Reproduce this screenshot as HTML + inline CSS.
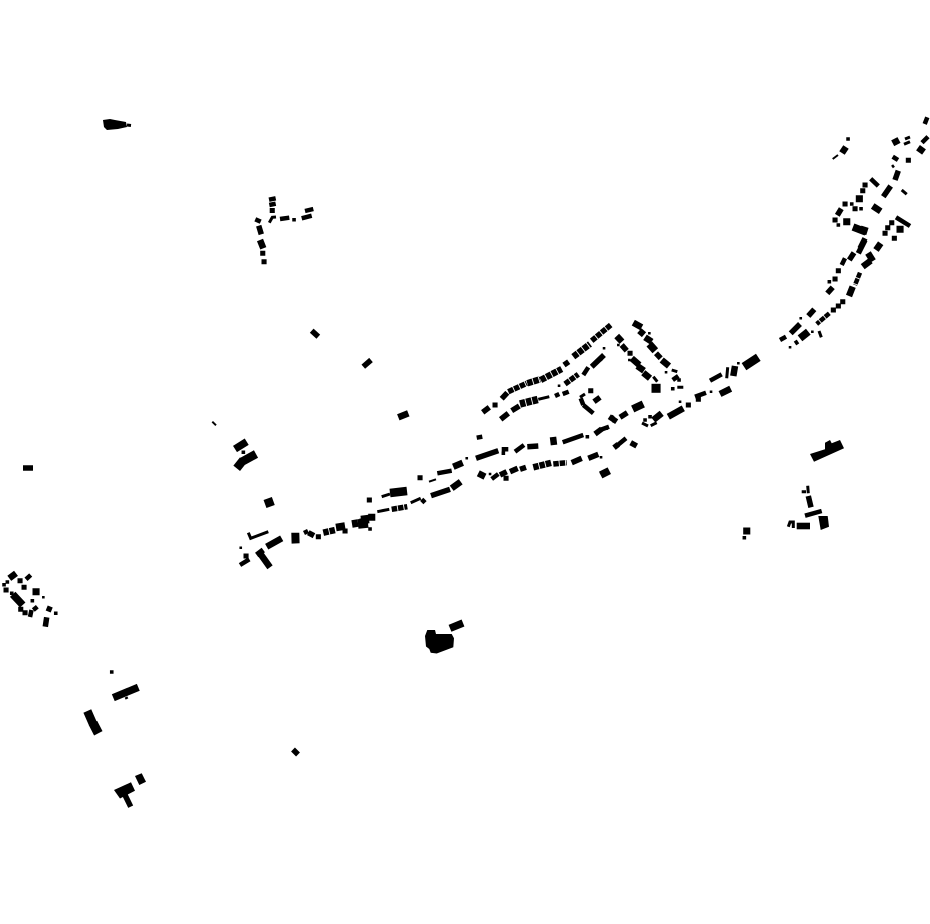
<!DOCTYPE html>
<html><head><meta charset="utf-8"><title>Figure-ground map</title>
<style>html,body{margin:0;padding:0;background:#fff}svg{display:block}path{fill:none;stroke:#000}.f{fill:#000;stroke:none}.d{stroke-linecap:square}.r{stroke-dasharray:5.5 .9}</style>
</head><body>
<svg width="930" height="924" viewBox="0 0 930 924" xmlns="http://www.w3.org/2000/svg">
<!-- filled polygons -->
<path class="f" d="M810 454L825 449.3 825 442.7 830 440 831.7 443.3 840 440 844 448.3 814 461.7Z"/>
<path class="f" d="M818.3 516L827.7 516 829 526.7 820.7 530Z"/>
<path class="f" d="M796.7 522.7H810V529.3H796.7Z"/>
<path class="f" d="M114 790L131 782.3 135 790.7 120 798.5Z"/>
<path class="f" d="M135 776L141.7 773.3 146 781.7 139.3 785Z"/>
<path class="f" d="M427.3 630L435 630 436 634 451.7 634 454 638.3 453.3 647.3 436.7 653.5 430.7 652.7 429.3 649 426 646.5 425 636Z"/>
<path class="f" d="M291.3 532.7L299.3 532.7 299.6 543.3 291.6 543.6Z"/>
<path class="f" d="M103 120L110 119 115 120 126 122 127 127 118 129 107 130 104 127Z"/>
<!-- width 2 -->
<path stroke-width="2" d="M832.7 159L838 155M212.3 421.7L216 425.3M429 481.7L436 479.3"/>
<!-- width 3 -->
<path stroke-width="3" d="M904 144.3L910 141.7M905 139L910 137M892 167L894 165.5M901.7 190L906.7 194.3M671.7 370L677.3 371.7M653.3 376.7L657.3 381.7M677.3 387.3L683.3 387.3M650.7 425.7L656.7 422.7M642 423L648 426M580 397.3L585 394M538.3 399.3L549.3 396.7M377.3 511.7L389.3 509.3M410.7 502.7L420.7 498.3M381.7 496.7L390 494M248.3 532.7L250.7 538.3L268.3 531.7M807.7 485.7L808.3 493.3M801.7 491.7L806 491.7M788.3 526.7L790 522L793.3 522L793.3 528M269.3 222.7L272.3 217.3L276 217M126 697L127 699M127 125L131 125.5M727.7 367.3L726.7 378.3M819 331L821.3 337.3"/>
<!-- width 4 -->
<path stroke-width="4.5" d="M924.7 124L927.3 117.3M922 142.7L928 136.7M892.7 156.7L898 160M870.7 178.7L878.3 186M896 217.3L910 226M780 340L786 336.7M795 343.5L798 341.5M710 380.7L721.7 374.3M695 396.7L706 392.7M600 360L603.3 355M600 430L609 426.7M672.7 380L678.3 376M615 447.3L626 438.3M583.3 375L588.3 367.3M562.7 394L568.7 391.7M555 396L559.3 394M476.7 437.7L482.3 436.7M501.7 449.3L508.3 449.3M515 451.7L524 445M562.7 442.3L583.3 435M491.7 479L498.3 474M437.3 473.3L451.7 470.7M421.7 499.3L425 502.7M240 565L249.3 559.3M269 199.7L275.7 198.3M269.3 205L275.7 203.7M280 219L289.3 217.7M305 211L313.3 209M301.7 218.3L311.7 215.7M255.3 219.3L260.7 221.7M805 515.7L821.7 511M583.3 405L593.3 413.3M580.7 398.3L583.3 405M26 579.3L30.7 575M33.3 610L37.3 606.7M30 617L31.5 610M841.7 265L845 258.300M305 530L307 534"/>
<path class="r" stroke-width="4.5" d="M860 272.7L855 285M829.3 313.3L816.7 324"/>
<!-- width 5 -->
<path stroke-width="5.5" d="M837.3 215.3L841.3 208.7M849.3 260L854 252.7M865 238.3L860 248.3M858.3 253.3L865 240M898.3 170.7L895 180M883.3 196.7L890.7 186M827.3 293.3L832.7 287.3M808.3 316L814.3 309.3M790.7 333.3L800 324M621.7 345L626.7 350.7M656 353.3L660.7 358.3M620 417.3L627.3 412.7M610.7 416.7L615 421M630.7 442.7L636.7 446M600.7 475L606 472M614 447.7L618.3 444.3M482.7 412.3L489.3 407.3M501.7 398.7L507.3 392.7M564 365L568.7 361.7M500.7 419.3L508.3 413.3M511.7 410.7L519.3 406M591.7 366.7L604 355M594 401.7L600 397.3M476 458.3L498.3 450.7M527.3 446.7L538.3 446M595 434L601.7 429M609.3 416.7L616.7 421.7M500 475L506.7 471.7M510 471.7L517.7 468.3M520 469.3L526 467.3M571.7 462.700L581.7 458.3M588.3 458.3L598.3 454.3M431 495.7L450 489.3M258.7 225.7L261.3 234.3M808.3 496L811 507.3M125 795L130.7 806.7M311.7 330.7L318.3 336.7M363.3 366.7L371 360M23 468L33 468M293 749.5L298 754.5M46.7 608L51.7 610M46.7 617.3L45.3 626.7M308.3 532.7L314 535.7M256.7 555L263.3 550"/>
<path class="r" stroke-width="5.5" d="M508.3 391.7L526.7 383.3M591.7 340.7L610.7 325M565 384L578.3 374.3M553.3 464L566.7 462.7M391.7 509.3L407.3 506.7"/>
<!-- width 6 -->
<path stroke-width="6.5" d="M892.7 143.3L899 140M872.7 206L880.7 211.3M876 250L880.7 243.3M842 153L846 147M918 147.7L924 152M849 296L852.7 286.7M862.7 266.7L870.7 260.7M868 253L873 261M633.3 322.7L641.7 327.3M639.3 330.7L644 334.7M645 337.3L651.7 341.7M661.7 360L669 366M637.3 366L644 370.7M643.3 372.7L650 378.3M616.7 336L622 341.7M720 394L730.7 388.7M668.3 416.7L683.3 408.3M653.3 420L661.7 413.3M735 366L733.3 376M478.3 473.3L485 476.7M453.3 466.700L462.7 462.7M451.7 488.3L460.7 481.7M553 437L554 445M260 553.3L270 567.3M266.7 546.7L281.7 538.3M260 240L263.3 248.3M398.3 417.3L408.3 413.3M631.7 358.3L639.3 365M9.3 578.3L16 573.3"/>
<path class="r" stroke-width="6.500" d="M527.3 383.3L540 379.3M540.7 380L561.7 369M573.3 356.7L590 344M533.3 467.3L551.7 462.7M323.3 532.7L335 530"/>
<!-- width 7 -->
<path stroke-width="7.5" d="M853 227L866 232M865 226.7L862.7 234M800 338.3L808.3 331.7M649.3 344L655.3 350.7M632.7 409L643.3 404M600.7 475L609.3 470.7M113.3 697.7L138.3 687.3M235 449L246.700 441.7M450 628.3L463 623M12.7 594.3L22.7 605M336 527.5L345 526M352 524L358 523"/>
<path class="r" stroke-width="7.5" d="M520 404L538.3 399.3"/>
<!-- width 8 -->
<path stroke-width="8.5" d="M744 366.7L758.3 357.3M390 493L407 491M265 504L273.3 501M242 461.7L256 454M236.7 468.3L243.3 460M87.3 711L93 724M361 520L369 519"/>
<!-- width 9 -->
<path stroke-width="9.5" d="M93 723L98.3 733.3M358 524L368 523"/>
<!-- dots: width 2 -->
<path class="d" stroke-width="2.5" d="M800.7 318.3h.1M812.3 331.7h.1M790 347.3h.1M649.3 333.3h.1M618.3 345h.1M629.3 360h.1M680 401.7h.1M604 348.3h.1M559 385.7h.1M601 457.3h.1M466.7 458.3h.1M240.7 547.7h.1M43.3 597.3h.1M666 372.3h.1M490 474h.1M711 391.7h.1M738.3 363.3h.1"/>
<!-- dots: width 3 -->
<path class="d" stroke-width="3.5" d="M848 139h.1M838.3 225h.1M861 208.7h.1M851.7 204h.1M829.3 281.7h.1M672.7 388.7h.1M679 380h.1M650 416.7h.1M645 420h.1M587.3 436.7h.1M606 428.3h.1M503.3 453.3h.1M243.3 452.3h.1M294 219.7h.1M744.3 537.7h.1M111.7 672h.1M32.3 600.7h.1M11.7 593.3h.1M4 584.7h.1M7.3 582h.1M55.7 613.3h.1M370 529h.1"/>
<!-- dots: width 4-5 -->
<path class="d" stroke-width="5" d="M908.3 160.3h.1M865 185h.1M862.7 190.7h.1M891.7 222.7h.1M887.7 227.7h.1M885 233.3h.1M838.3 270.7h.1M698.3 399.3h.1M688.3 405h.1M630 353.3h.1M495 405h.1M246 556h.1M318.3 536.7h.1M345 531h.1M20.7 609.3h.1M25 612.7h.1M20 580.7h.1M24 587.3h.1M6 590h.1M835 279h.1M894.3 238.3h.1M835 220h.1M845 204h.1M855 208.7h.1M842.7 301.7h.1M838.3 306h.1M833.3 310h.1M590.7 390.7h.1M264 261.700h.1M262.7 253.3h.1M272.2 210.5h.1M506 478.3h.1M420 477.7h.1M369.3 500h.1"/>
<!-- dots: width 6-9 -->
<path class="d" stroke-width="7" d="M846.7 221.7h.1M900 229.3h.1M859.3 198.7h.1M36 591.7h.1M746.7 531h.1M371.7 517.3h.1M363 522h.1"/>
<path class="d" stroke-width="9" d="M656 388.3h.1"/>
</svg>
</body></html>
